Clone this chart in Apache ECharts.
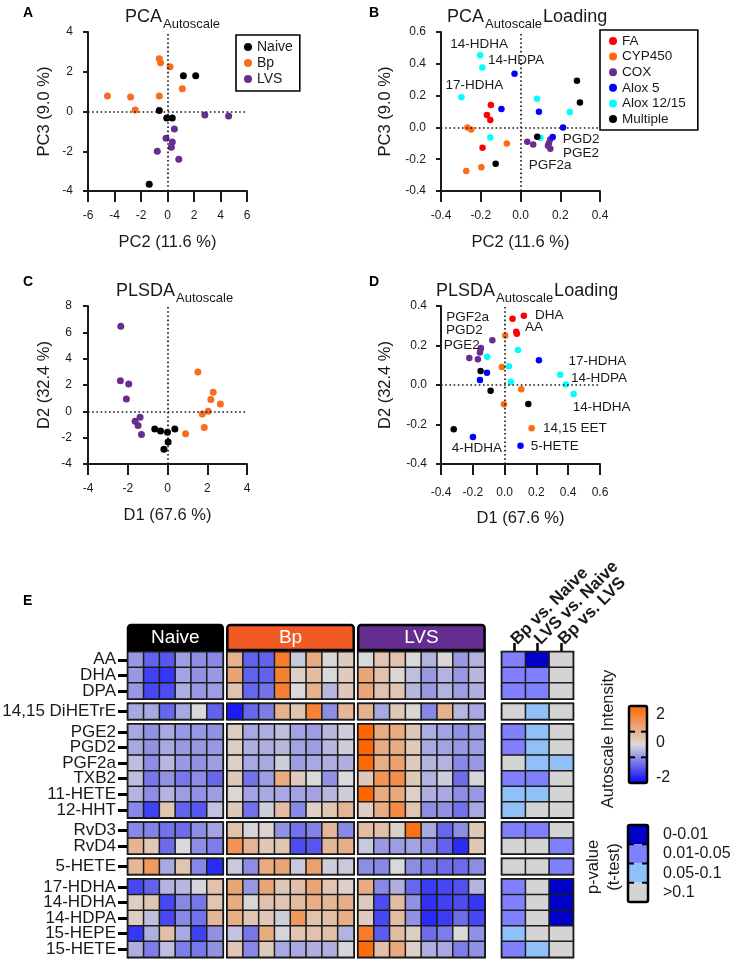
<!DOCTYPE html>
<html>
<head>
<meta charset="utf-8">
<script src="https://cdn.jsdelivr.net/npm/echarts@6/dist/echarts.min.js"></script>
<style>
  html, body { margin: 0; padding: 0; background: #fff; }
  #chart { width: 736px; height: 959px; }
</style>
</head>
<body>
<div id="chart"></div>
<script>
// ---- A: PCA scores (PC2, PC3)
const pcaNaive = [[1.2, 1.8], [2.13, 1.8], [-0.62, 0.05], [-0.06, -0.33], [0.36, -0.33], [-1.38, -3.66]];
const pcaBp = [[-0.62, 2.65], [-0.52, 2.45], [0.19, 2.25], [1.12, 1.14], [-4.53, 0.78], [-2.79, 0.73], [-0.62, 0.78], [-2.44, 0.08]];
const pcaLvs = [[2.82, -0.18], [4.61, -0.23], [0.52, -0.88], [-0.11, -1.34], [0.36, -1.54], [0.29, -1.8], [-0.77, -2.0], [0.85, -2.4]];

// ---- B: PCA loadings
const pcaLoadFA = [[-0.149, 0.141], [-0.169, 0.078], [-0.152, 0.046], [-0.191, -0.128]];
const pcaLoadCYP = [[-0.267, 0.0], [-0.248, -0.013], [-0.069, -0.101], [-0.197, -0.25], [-0.273, -0.274]];
const pcaLoadCOX = [[0.034, -0.09], [0.064, -0.107], [0.149, -0.076], [0.143, -0.1], [0.138, -0.115], [0.15, -0.135]];
const pcaLoadAlox5 = [[-0.03, 0.337], [-0.096, 0.116], [0.093, 0.099], [0.214, 0.0], [0.162, -0.061]];
const pcaLoadAlox1215 = [[-0.203, 0.453], [-0.192, 0.377], [-0.297, 0.19], [0.083, 0.18], [0.248, 0.097], [-0.152, -0.063], [0.1, -0.065]];
const pcaLoadMulti = [[0.284, 0.293], [0.299, 0.156], [0.084, -0.059], [-0.125, -0.229]];

// ---- C: PLSDA scores (D1, D2)
const plsNaive = [[-0.64, -1.35], [-0.35, -1.5], [0, -1.58], [0.37, -1.34], [0.03, -2.32], [-0.18, -2.88]];
const plsBp = [[1.53, 2.99], [2.3, 1.44], [2.18, 0.89], [2.66, 0.56], [2.05, 0], [1.75, -0.2], [1.85, -1.22], [0.91, -1.7]];
const plsLvs = [[-2.35, 6.46], [-2.37, 2.33], [-1.95, 2.08], [-2.07, 0.94], [-1.38, -0.45], [-1.63, -0.75], [-1.48, -1.08], [-1.31, -1.76]];

// ---- D: PLSDA loadings
const plsLoadFA = [[0.05, 0.336], [0.121, 0.351], [0.073, 0.27], [0.077, 0.26]];
const plsLoadCYP = [[0.004, 0.251], [-0.017, 0.091], [0.105, -0.022], [-0.004, -0.098], [0.17, -0.219]];
const plsLoadCOX = [[-0.077, 0.226], [-0.149, 0.187], [-0.151, 0.182], [-0.155, 0.164], [-0.222, 0.137], [-0.168, 0.13]];
const plsLoadAlox5 = [[0.216, 0.125], [-0.111, 0.062], [-0.155, 0.025], [-0.199, -0.263], [0.1, -0.307]];
const plsLoadAlox1215 = [[-0.109, 0.143], [0.084, 0.177], [0.027, 0.095], [0.04, 0.017], [0.35, 0.052], [0.385, 0.003], [0.434, -0.046]];
const plsLoadMulti = [[-0.151, 0.071], [-0.088, -0.029], [0.149, -0.096], [-0.32, -0.224]];

// ---- E: heatmap (autoscaled intensity, one row per lipid)
const lipids = ['AA', 'DHA', 'DPA', '14,15 DiHETrE', 'PGE2', 'PGD2', 'PGF2a', 'TXB2', '11-HETE', '12-HHT',
  'RvD3', 'RvD4', '5-HETE', '17-HDHA', '14-HDHA', '14-HDPA', '15-HEPE', '15-HETE'];
const lipidGroupSizes = [3, 1, 6, 2, 1, 5];
const groupNames = ['Naive', 'Bp', 'LVS'];
const naiveZ = [
  [-0.6, -1.1, -1.2, -0.55, -0.7, -0.75],
  [-0.6, -1.4, -1.5, -0.5, -0.65, -0.6],
  [-0.6, -1.35, -1.3, -0.4, -0.6, -0.55],
  [-0.45, -0.45, -1.05, -0.45, 0, -1.1],
  [-0.45, -0.65, -0.45, -0.6, -0.6, -0.65],
  [-0.45, -0.65, -0.45, -0.6, -0.6, -0.6],
  [-0.25, -0.7, -0.3, -0.6, -0.65, -0.55],
  [-0.25, -0.9, -0.65, -0.9, -0.7, -1.05],
  [-0.35, -0.7, -0.35, -0.55, -0.65, -0.55],
  [-0.75, -1.4, 0.35, -1.1, -1.2, -0.2],
  [-0.75, -0.8, -0.95, -1.0, -0.7, -0.5],
  [0.65, 0.3, -1.0, 0, -0.7, -0.85],
  [0.6, 1.1, -0.45, 0.35, -0.75, -1.6],
  [-1.35, -1.1, -0.35, -0.3, -0.05, 0.4],
  [0.2, 0.35, -1.35, -0.75, -0.9, 0.35],
  [0.2, -0.25, -1.35, -0.75, -0.95, 0.6],
  [-1.5, -0.4, 0.45, -0.45, -1.4, -0.65],
  [-0.4, -0.85, -0.25, -0.85, -0.9, -0.65]
];
const bpZ = [
  [0.7, -1.1, -1.1, 1.6, -0.15, 0.8, 0.05, 0.25],
  [0.95, -1.1, -1.1, 1.55, 0.15, 0.5, 0, 0.25],
  [0.4, -1.05, -0.95, 1.55, 0, 0.7, -0.3, 0.3],
  [-1.75, -1.05, -0.85, 0.7, 0.35, 1.5, -0.7, 0.6],
  [0.2, -0.45, -0.4, -0.25, -0.5, -0.55, -0.3, -0.1],
  [0.2, -0.4, -0.4, -0.3, -0.5, -0.55, -0.3, -0.1],
  [0.15, -0.45, -0.45, -0.1, -0.55, -0.45, -0.4, -0.4],
  [0.3, -0.95, -0.55, 0.8, 0.25, 0, -0.65, 0],
  [0.05, -0.5, -0.45, -0.45, -0.5, -0.5, -0.3, -0.1],
  [0.3, -0.95, -0.1, 0.5, -0.75, 0.15, 0.35, 0.65],
  [0.4, -0.05, 0.1, -0.65, -0.95, -0.8, 0.6, -0.75],
  [1.2, 0.65, 0.3, 0.35, -1.3, -1.2, 0.6, 0.75],
  [-0.15, -0.7, 0.8, 0.9, -0.15, 1.0, -0.1, -0.15],
  [0.9, -0.6, 0.9, 0.3, 0.45, 0.9, 0.35, 0.15],
  [0.8, 0.05, 0.4, 0.35, 0.5, 0.75, 0.6, 0.75],
  [0.75, 0.35, 0.3, -0.1, 1.15, 0.4, 0.45, 0.75],
  [-0.2, -0.9, 0.8, -0.05, 0.35, 0.4, 0.45, -0.35],
  [0.35, -0.75, 0.25, -0.45, -0.45, -0.4, -0.4, -0.05]
];
const lvsZ = [
  [0, 0.35, 0.4, 0, -0.35, 0.05, -0.6, -0.35],
  [0.9, 0.4, 0.05, -0.25, -0.6, -0.35, -0.6, -0.3],
  [0.9, 0.4, 0.35, -0.3, -0.6, -0.35, -0.55, -0.4],
  [0.7, -0.45, 0.3, 0.05, -0.75, 0.7, -0.3, -0.45],
  [2.0, 0.8, 0.8, 0.3, -0.4, -0.5, -0.65, -0.55],
  [2.0, 0.8, 0.8, 0.25, -0.45, -0.5, -0.6, -0.55],
  [1.95, 0.75, 1.0, 0.25, -0.35, -0.35, -0.75, -0.6],
  [0.3, 1.2, 1.3, 0.3, -0.35, -0.1, -1.0, -0.05],
  [2.0, 0.8, 0.85, 0.15, -0.4, -0.45, -0.7, -0.6],
  [0.2, 0.8, 1.35, 0.35, -0.7, -0.65, -0.95, -0.45],
  [0.5, 0.45, 0.15, 1.8, -0.45, -1.05, -0.7, 0.3],
  [-0.15, -0.6, -0.55, -0.5, -0.7, -1.1, -1.6, 0.3],
  [-0.7, -0.75, 0, -0.7, -0.9, -1.0, -1.0, -0.7],
  [0.8, -0.75, -0.4, -1.05, -1.45, -1.35, -1.25, -0.35],
  [0.25, -1.3, 0.5, -0.65, -1.55, -1.4, -1.3, -1.5],
  [0.25, -1.35, 0.5, -0.65, -1.6, -1.45, -1.0, -1.35],
  [1.6, -1.15, 0.5, 0.2, -1.0, -0.85, 0, -0.65],
  [1.9, 0.45, 0.85, 0.15, -0.4, -0.45, -0.85, -0.65]
];

// p-value class per lipid: 3 = 0-0.01, 2 = 0.01-0.05, 1 = 0.05-0.1, 0 = >0.1
const comparisons = ['Bp vs. Naive', 'LVS vs. Naive', 'Bp vs. LVS'];
const pClass = [
  [2, 3, 0], [2, 2, 0], [2, 2, 0], [0, 1, 0], [2, 1, 0], [2, 1, 0], [0, 1, 1], [2, 2, 0], [1, 1, 0],
  [1, 0, 0], [2, 2, 0], [0, 0, 2], [0, 0, 2], [2, 0, 3], [2, 0, 3], [2, 0, 3], [1, 0, 0], [2, 1, 0]
];
const pLabels = ['>0.1', '0.05-0.1', '0.01-0.05', '0-0.01'];
const intensityTicks = ['2', '0', '-2'];

// colours
const groupColors = ['#000000', '#F96B1E', '#6A2C91'];
const headerColors = ['#000000', '#F15A24', '#662D91'];
const classColors = { 'FA': '#FF0000', 'CYP450': '#FF6A13', 'COX': '#6A2C91', 'Alox 5': '#0000FF', 'Alox 12/15': '#00FFFF', 'Multiple': '#000000' };
const intensityColors = ['#0000FF', '#D9D9D9', '#FF6600'];
const pColors = ['#D4D4D4', '#90C0F8', '#8080FF', '#0000C8'];

const FONT = '"Liberation Sans", Arial, sans-serif';
const INK = '#1a1a1a';

const grid = [], xAxis = [], yAxis = [], series = [], graphic = [];
const heatSeries = [], pSeries = [];

function ts(size, extra) {
  return Object.assign({ fontFamily: FONT, fontSize: size, color: INK, fontWeight: 'normal' }, extra || {});
}

function addGrid(box) {
  grid.push(Object.assign({ containLabel: false, outerBoundsMode: 'none' }, box));
  return grid.length - 1;
}

function fmt1(v) {
  return Math.abs(v) < 1e-9 ? '0.0' : v.toFixed(1);
}

// scatter panel with L-shaped axes and dotted zero lines
function scatterPanel(box, xr, yr, names, gaps) {
  const gi = addGrid(box);
  xAxis.push({
    gridIndex: gi, type: 'value', min: xr[0], max: xr[1], interval: xr[2],
    name: names[0], nameLocation: 'middle', nameGap: gaps.xName, nameMoveOverlap: false,
    nameTextStyle: ts(16.5),
    axisLine: { show: true, onZero: false, lineStyle: { color: INK, width: 2 } },
    axisTick: { show: true, length: 11, lineStyle: { color: INK, width: 2 } },
    axisLabel: ts(12, { margin: gaps.xLabel, formatter: xr[3] }),
    splitLine: { show: false }
  });
  yAxis.push({
    gridIndex: gi, type: 'value', min: yr[0], max: yr[1], interval: yr[2],
    name: names[1], nameLocation: 'middle', nameGap: gaps.yName, nameMoveOverlap: false,
    nameTextStyle: ts(16.5),
    axisLine: { show: true, onZero: false, lineStyle: { color: INK, width: 2 } },
    axisTick: { show: true, length: 5, lineStyle: { color: INK, width: 2 } },
    axisLabel: ts(12, { margin: gaps.yLabel, formatter: yr[3] }),
    splitLine: { show: false }
  });
  return gi;
}

const zeroLines = {
  silent: true, symbol: 'none', animation: false, label: { show: false },
  lineStyle: { color: INK, width: 1.7, type: [1.6, 2.6] },
  data: [{ xAxis: 0 }, { yAxis: 0 }]
};

function addScatter(gi, name, color, data, size, first) {
  const s = {
    type: 'scatter', name, xAxisIndex: gi, yAxisIndex: gi, data,
    symbolSize: size, itemStyle: { color, opacity: 1 }, z: 3, silent: true
  };
  if (first) s.markLine = zeroLines;
  series.push(s);
}

// attach text labels to selected points: notes = {index: [text, position, offset]}
function noted(points, notes) {
  return points.map((p, i) => {
    const n = notes[i];
    if (!n) return p;
    return { value: p, label: { show: true, formatter: n[0], position: n[1], offset: n[2], distance: 5, ...ts(13.5) } };
  });
}

// ---- panel A
const gA = scatterPanel({ left: 88, top: 32, width: 159, height: 159 }, [-6, 6, 2], [-4, 4, 2],
  ['PC2 (11.6 %)', 'PC3 (9.0 %)'], { xName: 42.5, xLabel: 19, yName: 35, yLabel: 15 });
addScatter(gA, 'Naive', groupColors[0], pcaNaive, 7, true);
addScatter(gA, 'Bp', groupColors[1], pcaBp, 7);
addScatter(gA, 'LVS', groupColors[2], pcaLvs, 7);

// ---- panel B
const gB = scatterPanel({ left: 441, top: 32, width: 159, height: 159 }, [-0.4, 0.4, 0.2, fmt1], [-0.4, 0.6, 0.2, fmt1],
  ['PC2 (11.6 %)', 'PC3 (9.0 %)'], { xName: 42.5, xLabel: 19, yName: 47, yLabel: 15 });
addScatter(gB, 'FA', classColors['FA'], pcaLoadFA, 6.5, true);
addScatter(gB, 'CYP450', classColors['CYP450'], pcaLoadCYP, 6.5);
addScatter(gB, 'COX', classColors['COX'], noted(pcaLoadCOX, {
  1: ['PGF2a', 'bottom', [17, 6]], 2: ['PGD2', 'right', [4.5, 0]], 5: ['PGE2', 'right', [4.5, 4]]
}), 6.5);
addScatter(gB, 'Alox 5', classColors['Alox 5'], pcaLoadAlox5, 6.5);
addScatter(gB, 'Alox 12/15', classColors['Alox 12/15'], noted(pcaLoadAlox1215, {
  0: ['14-HDHA', 'top', [-1, 4.5]], 1: ['14-HDPA', 'right', [-2.5, -7.5]], 2: ['17-HDHA', 'top', [13, 3]]
}), 6.5);
addScatter(gB, 'Multiple', classColors['Multiple'], pcaLoadMulti, 6.5);

// ---- panel C
const gC = scatterPanel({ left: 88, top: 306, width: 159, height: 158 }, [-4, 4, 2], [-4, 8, 2],
  ['D1 (67.6 %)', 'D2 (32.4 %)'], { xName: 42.5, xLabel: 19, yName: 35, yLabel: 16 });
addScatter(gC, 'Naive', groupColors[0], plsNaive, 7, true);
addScatter(gC, 'Bp', groupColors[1], plsBp, 7);
addScatter(gC, 'LVS', groupColors[2], plsLvs, 7);

// ---- panel D
const gD = scatterPanel({ left: 441, top: 306, width: 159, height: 158 }, [-0.4, 0.6, 0.2, fmt1], [-0.4, 0.4, 0.2, fmt1],
  ['D1 (67.6 %)', 'D2 (32.4 %)'], { xName: 45.5, xLabel: 23, yName: 47, yLabel: 14 });
addScatter(gD, 'FA', classColors['FA'], noted(plsLoadFA, {
  1: ['DHA', 'right', [3, 0]], 3: ['AA', 'right', [0, -6.5]]
}), 6.5, true);
addScatter(gD, 'CYP450', classColors['CYP450'], noted(plsLoadCYP, {
  4: ['14,15 EET', 'right', [3, 0]]
}), 6.5);
addScatter(gD, 'COX', classColors['COX'], noted(plsLoadCOX, {
  0: ['PGF2a', 'left', [5, -23.4]], 1: ['PGD2', 'left', [10, -18]], 2: ['PGE2', 'left', [7.4, -4]]
}), 6.5);
addScatter(gD, 'Alox 5', classColors['Alox 5'], noted(plsLoadAlox5, {
  3: ['4-HDHA', 'bottom', [4, -4]], 4: ['5-HETE', 'right', [2, 0.5]]
}), 6.5);
addScatter(gD, 'Alox 12/15', classColors['Alox 12/15'], noted(plsLoadAlox1215, {
  4: ['17-HDHA', 'right', [0, -13.5]], 5: ['14-HDPA', 'right', [-3, -6]], 6: ['14-HDHA', 'bottom', [28, -2]]
}), 6.5);
addScatter(gD, 'Multiple', classColors['Multiple'], plsLoadMulti, 6.5);

// ---- panel E: heatmap blocks (row groups x sample groups) + p-value block
const cellW = 15.8, colGap = 4.5, rowH = 15.56, rowGap = 5;
const heatLeft = 128, heatTop = 652;
const pLeft = 502, pCellW = 23.67;
const blockBorder = { show: true, borderColor: '#000', borderWidth: 2.6, backgroundColor: 'transparent' };
const cellStyle = { borderColor: '#1c1c1c', borderWidth: 1.5 };

const groupLeft = [];
{
  let left = heatLeft;
  [naiveZ, bpZ, lvsZ].forEach((m) => { groupLeft.push([left, m[0].length * cellW]); left += m[0].length * cellW + colGap; });
}

let rowStart = 0, blockTop = heatTop;
lipidGroupSizes.forEach((n, gIdx) => {
  const rows = lipids.slice(rowStart, rowStart + n);
  [naiveZ, bpZ, lvsZ].forEach((mat, c) => {
    const cols = mat[0].length;
    const gi = addGrid(Object.assign({ left: groupLeft[c][0], top: blockTop, width: groupLeft[c][1], height: n * rowH }, blockBorder));
    xAxis.push({ gridIndex: gi, type: 'category', data: mat[0].map((_, j) => String(j)), show: false });
    yAxis.push({
      gridIndex: gi, type: 'category', data: rows, inverse: true, show: c === 0,
      axisLine: { show: true, lineStyle: { color: '#000', width: 2.6 } },
      axisTick: { show: true, alignWithLabel: true, length: 10, lineStyle: { color: '#000', width: 3 } },
      axisLabel: ts(17, { interval: 0, margin: 12 }),
      splitLine: { show: false }
    });
    const data = [];
    for (let i = 0; i < n; i++) for (let j = 0; j < cols; j++) data.push([j, i, mat[rowStart + i][j]]);
    heatSeries.push(series.length);
    series.push({ type: 'heatmap', xAxisIndex: gi, yAxisIndex: gi, data, itemStyle: cellStyle, emphasis: { disabled: true }, silent: true });
  });

  const gp = addGrid(Object.assign({ left: pLeft, top: blockTop, width: 3 * pCellW, height: n * rowH }, blockBorder));
  xAxis.push({
    gridIndex: gp, type: 'category', data: comparisons, position: 'top', show: gIdx === 0,
    axisLine: { show: true, lineStyle: { color: '#000', width: 2.6 } },
    axisTick: { show: true, alignWithLabel: true, length: 9, lineStyle: { color: '#000', width: 2.5 } },
    axisLabel: ts(17, { interval: 0, rotate: -45, margin: 10, fontWeight: 'bold' })
  });
  yAxis.push({ gridIndex: gp, type: 'category', data: rows, inverse: true, show: false });
  const pdata = [];
  for (let i = 0; i < n; i++) for (let j = 0; j < 3; j++) pdata.push([j, i, pClass[rowStart + i][j]]);
  pSeries.push(series.length);
  series.push({ type: 'heatmap', xAxisIndex: gp, yAxisIndex: gp, data: pdata, itemStyle: cellStyle, emphasis: { disabled: true }, silent: true });

  rowStart += n;
  blockTop += n * rowH + rowGap;
});

// ---- decorations: panel letters, group headers, colour legends
function text(x, y, str, size, extra, el) {
  graphic.push(Object.assign({
    type: 'text', x, y, silent: true,
    style: Object.assign({
      text: str, fill: INK, font: size + 'px ' + FONT,
      align: 'left', verticalAlign: 'middle', textAlign: 'left', textVerticalAlign: 'middle'
    }, extra || {})
  }, el || {}));
}

[['A', 23, 13], ['B', 369, 13], ['C', 23, 282], ['D', 369, 282], ['E', 23, 601]].forEach(([l, x, y]) => {
  text(x, y, l, 14, { font: 'bold 14px ' + FONT, fill: '#000' });
});

groupNames.forEach((g, c) => {
  const [left, w] = groupLeft[c];
  graphic.push({
    type: 'rect', silent: true,
    shape: { x: left, y: 625, width: w, height: 25, r: [3, 3, 0, 0] },
    style: { fill: headerColors[c], stroke: '#000', lineWidth: 2.5 }
  });
  text(left + w / 2, 637.5, g, 19, { fill: '#fff', align: 'center', textAlign: 'center' });
});

// intensity colour bar
const cb = { x: 629, y: 706, w: 18, h: 77 };
graphic.push({
  type: 'rect', silent: true,
  shape: { x: cb.x, y: cb.y, width: cb.w, height: cb.h, r: 2 },
  style: {
    fill: { type: 'linear', x: 0, y: 0, x2: 0, y2: 1, colorStops: [
      { offset: 0, color: intensityColors[2] }, { offset: 0.5, color: intensityColors[1] }, { offset: 1, color: intensityColors[0] }] },
    stroke: '#000', lineWidth: 2.5
  }
});
[1, 2].forEach((k) => {
  const yy = cb.y + cb.h * k / 3;
  graphic.push({ type: 'line', silent: true, shape: { x1: cb.x + 1, y1: yy, x2: cb.x + 6, y2: yy }, style: { stroke: '#000', lineWidth: 2 } });
  graphic.push({ type: 'line', silent: true, shape: { x1: cb.x + cb.w - 6, y1: yy, x2: cb.x + cb.w - 1, y2: yy }, style: { stroke: '#000', lineWidth: 2 } });
});
intensityTicks.forEach((t, i) => text(cb.x + 27, [715, 743, 778][i], t, 16));
text(0, 0, 'Autoscale Intensity', 16.5, { align: 'center', textAlign: 'center' }, { x: 608, y: 739, rotation: Math.PI / 2 });

// p-value legend
const pb = { x: 628, y: 825, w: 20, h: 77 };
const segH = pb.h / pColors.length;
pColors.slice().reverse().forEach((col, i) => {
  graphic.push({ type: 'rect', silent: true, shape: { x: pb.x, y: pb.y + i * segH, width: pb.w, height: segH }, style: { fill: col } });
  text(pb.x + 35, pb.y + (i + 0.5) * segH, pLabels[pColors.length - 1 - i], 16);
  if (i > 0) {
    const yy = pb.y + i * segH;
    graphic.push({ type: 'line', silent: true, shape: { x1: pb.x + 1, y1: yy, x2: pb.x + 6, y2: yy }, style: { stroke: '#000', lineWidth: 2 } });
    graphic.push({ type: 'line', silent: true, shape: { x1: pb.x + pb.w - 6, y1: yy, x2: pb.x + pb.w - 1, y2: yy }, style: { stroke: '#000', lineWidth: 2 } });
  }
});
graphic.push({ type: 'rect', silent: true, shape: { x: pb.x, y: pb.y, width: pb.w, height: pb.h, r: 2 }, style: { fill: 'none', stroke: '#000', lineWidth: 2.5 } });
text(0, 0, 'p-value', 16.5, { align: 'center', textAlign: 'center' }, { x: 593, y: 867, rotation: Math.PI / 2 });
text(0, 0, '(t-test)', 16.5, { align: 'center', textAlign: 'center' }, { x: 614, y: 867, rotation: Math.PI / 2 });

// ---- titles with subscript
function title(left, top, main, tail) {
  return {
    left, top, padding: 0,
    text: '{m|' + main + '}{s|Autoscale}' + (tail ? '{m|' + tail + '}' : ''),
    textStyle: {
      fontWeight: 'normal',
      rich: {
        m: { fontFamily: FONT, fontSize: 18, fontWeight: 'normal', color: INK, lineHeight: 20, verticalAlign: 'top' },
        s: { fontFamily: FONT, fontSize: 13, fontWeight: 'normal', color: INK, lineHeight: 13, verticalAlign: 'top', padding: [9.5, 1, 0, 1] }
      }
    }
  };
}

const legendBase = {
  orient: 'vertical', icon: 'circle', borderColor: '#000', borderWidth: 1.6,
  selectedMode: false, backgroundColor: '#fff'
};

const option = {
  animation: false,
  backgroundColor: '#fff',
  title: [
    title(125, 8.5, 'PCA'),
    title(447, 8.5, 'PCA', 'Loading'),
    title(116, 282, 'PLSDA'),
    title(436, 282, 'PLSDA', 'Loading')
  ],
  legend: [
    Object.assign({}, legendBase, {
      data: groupNames, left: 236, top: 35, padding: [5, 7, 5, 8], itemWidth: 8, itemHeight: 8, itemGap: 2,
      textStyle: ts(14, { lineHeight: 13 })
    }),
    Object.assign({}, legendBase, {
      data: Object.keys(classColors), left: 600, top: 30, padding: [4, 12, 4, 9], itemWidth: 8, itemHeight: 8, itemGap: 1.6,
      textStyle: ts(13.5, { lineHeight: 12 })
    })
  ],
  grid, xAxis, yAxis,
  visualMap: [
    { type: 'continuous', show: false, min: -2, max: 2, dimension: 2, seriesIndex: heatSeries, inRange: { color: intensityColors } },
    { type: 'piecewise', show: false, dimension: 2, seriesIndex: pSeries, pieces: pColors.map((c, i) => ({ value: i, color: c })) }
  ],
  series,
  graphic: { elements: graphic }
};

const chart = echarts.init(document.getElementById('chart'));
chart.setOption(option);
</script>
</body>
</html>
